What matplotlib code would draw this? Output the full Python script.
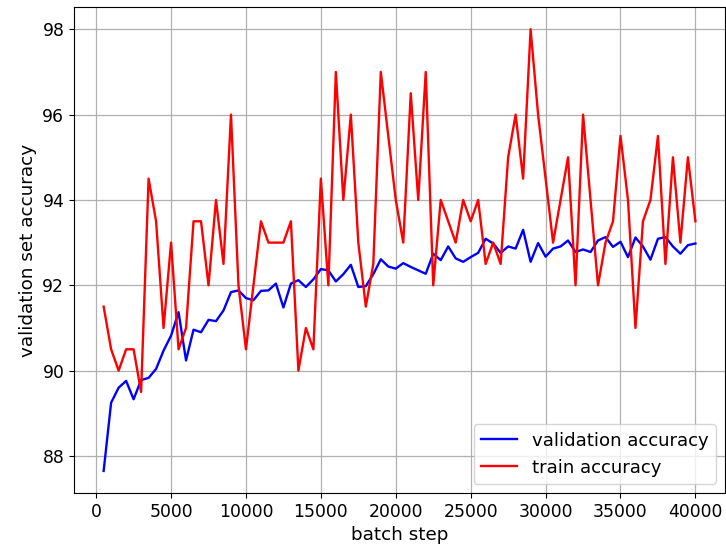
"""Validation vs. train accuracy over training batch steps."""

import matplotlib

matplotlib.use("Agg")

import matplotlib.pyplot as plt
import numpy as np

# evaluation every 500 batches
steps = np.arange(500, 40001, 500)

val_acc = [
    87.65, 89.25, 89.60, 89.76, 89.33, 89.78, 89.83, 90.04, 90.47, 90.82,
    91.37, 90.24, 90.96, 90.90, 91.19, 91.16, 91.41, 91.84, 91.88, 91.70,
    91.65, 91.87, 91.88, 92.04, 91.48, 92.04, 92.12, 91.96, 92.14, 92.38,
    92.35, 92.09, 92.26, 92.48, 91.96, 91.98, 92.26, 92.61, 92.44, 92.39,
    92.52, 92.43, 92.35, 92.27, 92.74, 92.59, 92.91, 92.63, 92.55, 92.66,
    92.76, 93.09, 92.98, 92.76, 92.91, 92.86, 93.30, 92.55, 92.99, 92.67,
    92.86, 92.91, 93.05, 92.78, 92.84, 92.78, 93.05, 93.13, 92.90, 93.02,
    92.66, 93.12, 92.91, 92.60, 93.09, 93.13, 92.91, 92.74, 92.94, 92.98,
]

train_acc = [
    91.5, 90.5, 90.0, 90.5, 90.5, 89.5, 94.5, 93.5, 91.0, 93.0,
    90.5, 91.0, 93.5, 93.5, 92.0, 94.0, 92.5, 96.0, 92.0, 90.5,
    92.0, 93.5, 93.0, 93.0, 93.0, 93.5, 90.0, 91.0, 90.5, 94.5,
    92.0, 97.0, 94.0, 96.0, 93.0, 91.5, 92.5, 97.0, 95.5, 94.0,
    93.0, 96.5, 94.0, 97.0, 92.0, 94.0, 93.5, 93.0, 94.0, 93.5,
    94.0, 92.5, 93.0, 92.5, 95.0, 96.0, 94.5, 98.0, 96.0, 94.5,
    93.0, 94.0, 95.0, 92.0, 96.0, 94.0, 92.0, 93.0, 93.5, 95.5,
    94.0, 91.0, 93.5, 94.0, 95.5, 92.5, 95.0, 93.0, 95.0, 93.5,
]

fig, ax = plt.subplots(figsize=(7.26, 5.5), dpi=100)
fig.subplots_adjust(left=0.102, right=0.9986, top=0.987, bottom=0.1036)

ax.plot(steps, val_acc, color="blue", lw=1.7, label="validation accuracy")
ax.plot(steps, train_acc, color="red", lw=1.7, label="train accuracy")

ax.set_xlabel("batch step", fontsize=13.2)
ax.set_ylabel("validation set accuracy", fontsize=13.2)
ax.tick_params(labelsize=12.4)
ax.grid(True, lw=0.9)
ax.legend(loc="lower right", fontsize=13.1)

fig.savefig("out.png", dpi=100)
plt.close(fig)
